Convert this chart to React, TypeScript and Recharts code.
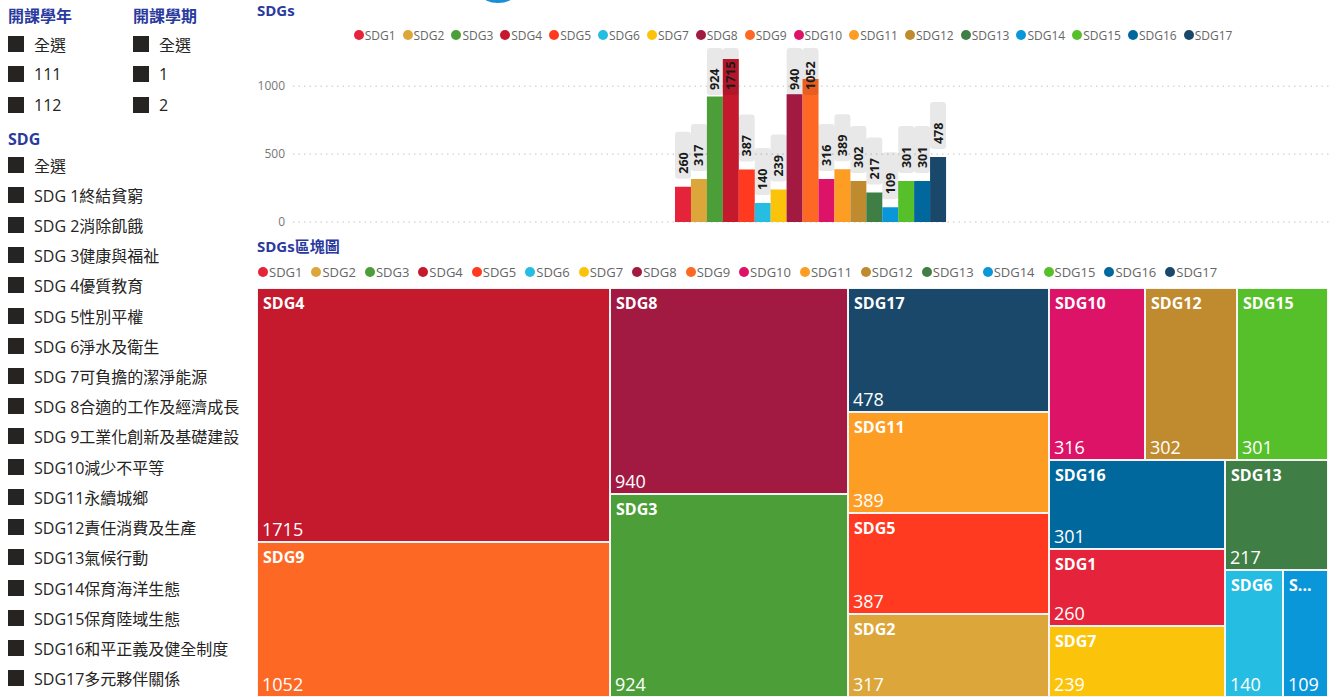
import React from 'react';
import { BarChart, Bar, XAxis, YAxis, CartesianGrid, Cell, LabelList, Treemap } from 'recharts';

const sdgNames = ['SDG1', 'SDG2', 'SDG3', 'SDG4', 'SDG5', 'SDG6', 'SDG7', 'SDG8', 'SDG9', 'SDG10', 'SDG11', 'SDG12', 'SDG13', 'SDG14', 'SDG15', 'SDG16', 'SDG17'];
const sdgValues = [260, 317, 924, 1715, 387, 140, 239, 940, 1052, 316, 389, 302, 217, 109, 301, 301, 478];
const sdgColors = ['#E5243B', '#DDA63A', '#4C9F38', '#C5192D', '#FF3A21', '#26BDE2', '#FCC30B', '#A21942', '#FD6925', '#DD1367', '#FD9D24', '#BF8B2E', '#3F7E44', '#0A97D9', '#56C02B', '#00689D', '#19486A'];
const yTicks = [0, 500, 1000];
const yDomain = [0, 1200];

const yearTitle = '開課學年';
const yearOptions = ['全選', '111', '112'];
const termTitle = '開課學期';
const termOptions = ['全選', '1', '2'];
const sdgTitle = 'SDG';
const sdgOptions = ['全選', 'SDG 1終結貧窮', 'SDG 2消除飢餓', 'SDG 3健康與福祉', 'SDG 4優質教育', 'SDG 5性別平權', 'SDG 6淨水及衛生', 'SDG 7可負擔的潔淨能源', 'SDG 8合適的工作及經濟成長', 'SDG 9工業化創新及基礎建設', 'SDG10減少不平等', 'SDG11永續城鄉', 'SDG12責任消費及生產', 'SDG13氣候行動', 'SDG14保育海洋生態', 'SDG15保育陸域生態', 'SDG16和平正義及健全制度', 'SDG17多元夥伴關係'];
const barTitle = 'SDGs';
const treeTitle = 'SDGs區塊圖';

const FONT = "'Segoe UI', 'Open Sans', 'Noto Sans CJK TC', sans-serif";
const TITLE_COLOR = '#2a3a9e';
const TEXT_COLOR = '#252423';
const LEGEND_COLOR = '#666666';

const barData = sdgNames.map((name, i) => ({ name, value: sdgValues[i], color: sdgColors[i] }));
const treeData = barData.slice().sort((a, b) => b.value - a.value);

let measureCtx: CanvasRenderingContext2D | null = null;
function measure(text: string, font: string): number {
  if (!measureCtx) {
    const c = document.createElement('canvas');
    measureCtx = c.getContext('2d');
  }
  if (!measureCtx) return text.length * 9;
  measureCtx.font = font;
  return measureCtx.measureText(text).width;
}
function fitText(text: string, avail: number, font: string): string {
  if (measure(text, font) <= avail) return text;
  for (let k = text.length - 1; k >= 1; k--) {
    const t = text.slice(0, k) + '...';
    if (measure(t, font) <= avail) return t;
  }
  return text.slice(0, 1) + '...';
}

function SlicerItem({ x, cy, label }: { x: number; cy: number; label: string }) {
  return (
    <div style={{ position: 'absolute', left: x, top: cy - 11, height: 22, display: 'flex', alignItems: 'center', fontSize: 16, color: TEXT_COLOR, whiteSpace: 'nowrap', fontFamily: FONT }}>
      <div style={{ width: 16, height: 16, background: TEXT_COLOR, marginRight: 10, flex: 'none' }} />
      <span>{label}</span>
    </div>
  );
}

function Title({ x, cy, text, size = 16 }: { x: number; cy: number; text: string; size?: number }) {
  return (
    <div style={{ position: 'absolute', left: x, top: cy - 11, height: 22, lineHeight: '22px', fontSize: size, fontWeight: 700, color: TITLE_COLOR, whiteSpace: 'nowrap', fontFamily: FONT }}>
      {text}
    </div>
  );
}

function SdgLegend({ left, width, cy, justify, fontSize, spacing }: { left: number; width: number; cy: number; justify: string; fontSize: number; spacing: number }) {
  return (
    <div style={{ position: 'absolute', left, width, top: cy - 10, height: 20, display: 'flex', justifyContent: justify, alignItems: 'center', fontFamily: FONT, fontSize, color: LEGEND_COLOR, whiteSpace: 'nowrap' }}>
      {sdgNames.map((n, i) => (
        <div key={n} style={{ display: 'flex', alignItems: 'center', marginRight: i < sdgNames.length - 1 ? spacing : 0 }}>
          <div style={{ width: 10, height: 10, borderRadius: 5, background: sdgColors[i], marginRight: 1 }} />
          <span>{n}</span>
        </div>
      ))}
    </div>
  );
}

const BarLabel = (props: any) => {
  const { x, y, width, value } = props;
  const boxW = 16;
  const boxH = 47;
  let bottom = y - 8;
  let top = bottom - boxH;
  if (top < 48) {
    top = 48;
    bottom = top + boxH;
  }
  const cx = x + width / 2;
  return (
    <g>
      <rect x={cx - boxW / 2} y={top} width={boxW} height={boxH} rx={3} fill="#000000" fillOpacity={0.09} />
      <text transform={`translate(${cx + 4.5}, ${bottom - 5}) rotate(-90)`} fontSize={12.5} fontWeight={700} fill="#1a1a1a" fontFamily={FONT} textAnchor="start">
        {value}
      </text>
    </g>
  );
};

const TreeTile = (props: any) => {
  const { x, y, width, height, depth, name, value, color } = props;
  if (depth !== 1) return <g />;
  const nameFont = `bold 16px 'Open Sans'`;
  const label = fitText(String(name), width - 16, nameFont);
  return (
    <g>
      <rect x={x} y={y} width={width} height={height} fill={color} stroke="#f4f4f4" strokeWidth={2} />
      <text x={x + 6} y={y + 21} fill="#ffffff" fontSize={16} fontWeight={700} fontFamily={FONT}>{label}</text>
      <text x={x + 5} y={y + height - 6} fill="#ffffff" fontSize={18} fontFamily={FONT}>{value}</text>
    </g>
  );
};

export default function App() {
  return (
    <div style={{ position: 'absolute', left: 0, top: 0, width: 1336, height: 697, overflow: 'hidden', background: '#ffffff', fontFamily: FONT }}>
      {/* logo fragment at top */}
      <svg style={{ position: 'absolute', left: 0, top: 0 }} width={1336} height={10}>
        <ellipse cx={498} cy={-5} rx={16} ry={8} fill="#1b8fd6" />
      </svg>

      {/* slicers */}
      <Title x={8} cy={16} text={yearTitle} />
      {yearOptions.map((o, i) => (
        <SlicerItem key={'y' + o} x={8} cy={44 + i * 30.3} label={o} />
      ))}
      <Title x={133} cy={16} text={termTitle} />
      {termOptions.map((o, i) => (
        <SlicerItem key={'t' + o} x={133} cy={44 + i * 30.3} label={o} />
      ))}
      <Title x={8} cy={139} text={sdgTitle} />
      {sdgOptions.map((o, i) => (
        <SlicerItem key={'s' + o} x={8} cy={164.5 + i * 30.22} label={o} />
      ))}

      {/* bar chart */}
      <Title x={257} cy={10} text={barTitle} size={15} />
      <SdgLegend left={250} width={1086} cy={35} justify="center" fontSize={12} spacing={7} />
      <div style={{ position: 'absolute', left: 0, top: 0 }}>
        <BarChart width={1336} height={240} data={barData} margin={{ top: 59, right: 6, bottom: 18, left: 253 }} barCategoryGap={0}>
          <CartesianGrid vertical={false} horizontalValues={yTicks} strokeDasharray="1.5 4" stroke="#c4c4c4" />
          <XAxis dataKey="name" hide padding={{ left: 382, right: 384 }} />
          <YAxis domain={yDomain} ticks={yTicks} allowDataOverflow width={40} axisLine={false} tickLine={false} tick={{ fontSize: 12, fill: '#777777', fontFamily: FONT }} />
          <Bar dataKey="value" isAnimationActive={false}>
            {barData.map((d) => (
              <Cell key={d.name} fill={d.color} />
            ))}
            <LabelList dataKey="value" content={BarLabel} />
          </Bar>
        </BarChart>
      </div>

      {/* treemap */}
      <Title x={257} cy={246} text={treeTitle} size={15} />
      <SdgLegend left={258} width={1070} cy={272} justify="flex-start" fontSize={13} spacing={9} />
      <div style={{ position: 'absolute', left: 257, top: 288 }}>
        <Treemap width={1071} height={409} data={treeData} dataKey="value" nameKey="name" isAnimationActive={false} content={(p: any) => <TreeTile {...p} />} />
      </div>
    </div>
  );
}
